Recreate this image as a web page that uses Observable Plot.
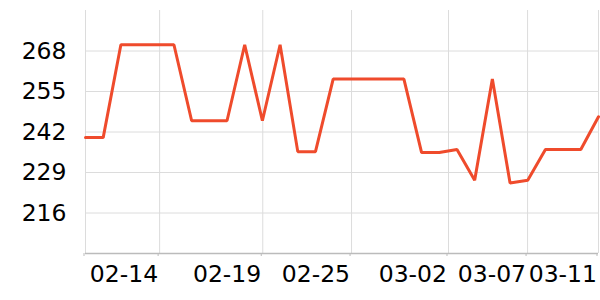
<!DOCTYPE html>
<html>
<head>
<meta charset="utf-8">
<script src="https://cdn.jsdelivr.net/npm/d3@7"></script>
<script src="https://cdn.jsdelivr.net/npm/@observablehq/plot@0.6"></script>
<style>
  html, body { margin: 0; padding: 0; background: #fff; }
  #chart svg { display: block; }
</style>
</head>
<body>
<div id="chart"></div>
<script>
// Series values, one per observation (index 0..29)
const values = [240.2, 240.2, 270, 270, 270, 270, 245.6, 245.6, 245.6, 270,
                245.6, 270, 235.7, 235.7, 259, 259, 259, 259, 259, 235.4,
                235.4, 236.4, 226.5, 259, 225.6, 226.5, 236.4, 236.4, 236.4, 246.9];
// x tick positions (observation index) and their labels
const xTickPos = [0, 4.19, 10.02, 15.04, 20.52, 24.99, 29];
const xTickLabels = ["", "02-14", "02-19", "02-25", "03-02", "03-07", "03-11"];
const yTicks = [216, 229, 242, 255, 268];
const yDomain = [203, 281];

const data = values.map((v, i) => ({i, v}));
const labelOf = new Map(xTickPos.map((p, k) => [p, xTickLabels[k]]));

const chart = Plot.plot({
  width: 600,
  height: 300,
  marginLeft: 85,
  marginRight: 2,
  marginTop: 10,
  marginBottom: 47,
  style: {fontFamily: "DejaVu Sans", fontSize: "23.5px", color: "#000", background: "#fff"},
  x: {domain: [0, 29]},
  y: {domain: yDomain},
  marks: [
    Plot.gridY(yTicks, {stroke: "#dcdcdc", strokeOpacity: 1}),
    Plot.gridX(xTickPos, {stroke: "#dcdcdc", strokeOpacity: 1}),
    Plot.axisY(yTicks, {tickSize: 0, tickPadding: 19, fontSize: 23.5, fill: "#000", label: null}),
    Plot.axisX(xTickPos, {tickSize: 3, stroke: "#bbb", tickPadding: 9, fontSize: 23.5, fill: "#000",
      textAnchor: "end", dx: -1.5, label: null, tickFormat: d => labelOf.get(d)}),
    Plot.ruleY([yDomain[0]], {stroke: "#bbb", strokeWidth: 1.5}),
    Plot.line(data, {x: "i", y: "v", stroke: "#ef4b2c", strokeWidth: 3, strokeLinejoin: "miter"})
  ]
});
document.getElementById("chart").appendChild(chart);
</script>
</body>
</html>
